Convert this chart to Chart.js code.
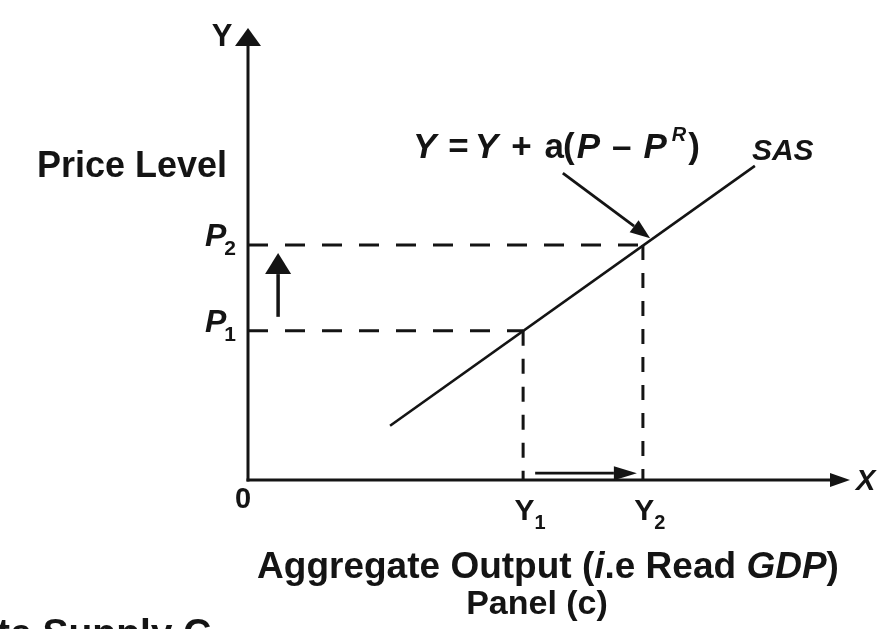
<!DOCTYPE html>
<html>
<head>
<meta charset="utf-8">
<title>Short-run aggregate supply - Panel (c)</title>
<script src="https://cdn.jsdelivr.net/npm/chart.js@4.4.1/dist/chart.umd.min.js"></script>
<style>
  html, body { margin: 0; padding: 0; background: #fff; }
  canvas { display: block; }
</style>
</head>
<body>
<canvas id="sas" width="890" height="629"></canvas>
<script>
// values (output on x, price level on y, both 0..100)
const outputTicks = [0, 45.7, 65.6];
const outputNames = ["0", "Y", "Y"];
const outputSubs = ["", "1", "2"];
const priceTicks = [33, 52];
const priceNames = ["P", "P"];
const priceSubs = ["1", "2"];
const sasX = [23.6, 84.2];
const sasY = [12, 69.5];
// shift arrows: price rise, output rise, pointer to the equation
const arrowFromX = [5, 47.7, 52.3];
const arrowFromY = [36.1, 1.5, 67.9];
const arrowToX = [5, 64.6, 66.8];
const arrowToY = [50.2, 1.5, 53.5];

const FONT = '"Liberation Sans", Arial, Helvetica, sans-serif';
const INK = "#141414";

function font(size, italic) {
  return (italic ? "italic " : "") + "bold " + size + "px " + FONT;
}

// draw a row of text pieces: [text, size, italic, dy, gapAfter]
function drawRuns(ctx, runs, x, y, align) {
  let total = 0;
  runs.forEach(r => {
    ctx.font = font(r[1], r[2]);
    total += ctx.measureText(r[0]).width + (r[4] || 0);
  });
  let cx = align === "right" ? x - total : align === "center" ? x - total / 2 : x;
  ctx.textAlign = "left";
  ctx.textBaseline = "alphabetic";
  runs.forEach(r => {
    ctx.font = font(r[1], r[2]);
    ctx.fillText(r[0], cx, y + (r[3] || 0));
    cx += ctx.measureText(r[0]).width + (r[4] || 0);
  });
}

function arrow(ctx, x1, y1, x2, y2, headLen, headW, lw) {
  const a = Math.atan2(y2 - y1, x2 - x1);
  const bx = x2 - headLen * Math.cos(a), by = y2 - headLen * Math.sin(a);
  ctx.lineWidth = lw;
  ctx.beginPath();
  ctx.moveTo(x1, y1);
  ctx.lineTo(bx, by);
  ctx.stroke();
  ctx.beginPath();
  ctx.moveTo(x2, y2);
  ctx.lineTo(bx + headW / 2 * Math.sin(a), by - headW / 2 * Math.cos(a));
  ctx.lineTo(bx - headW / 2 * Math.sin(a), by + headW / 2 * Math.cos(a));
  ctx.closePath();
  ctx.fill();
}

const diagram = {
  id: "diagram",
  beforeDraw(chart) {
    const ctx = chart.ctx;
    ctx.save();
    ctx.fillStyle = "#fff";
    ctx.fillRect(0, 0, chart.width, chart.height);
    ctx.restore();
  },
  afterDatasetsDraw(chart) {
    const ctx = chart.ctx;
    const xs = chart.scales.x, ys = chart.scales.y;
    const x0 = xs.getPixelForValue(0), y0 = ys.getPixelForValue(0);
    ctx.save();
    ctx.strokeStyle = INK;
    ctx.fillStyle = INK;
    ctx.lineCap = "butt";

    // axes with arrow heads
    arrow(ctx, x0, y0 + 1.5, x0, ys.getPixelForValue(100), 18, 26, 3);
    arrow(ctx, x0 - 1.5, y0, xs.getPixelForValue(100), y0, 20, 14, 3);

    // shift arrows
    const heads = [[21, 26, 3.5], [23, 14, 2.8], [20, 15, 2.8]];
    arrowFromX.forEach((v, i) => {
      arrow(ctx, xs.getPixelForValue(v), ys.getPixelForValue(arrowFromY[i]),
        xs.getPixelForValue(arrowToX[i]), ys.getPixelForValue(arrowToY[i]),
        heads[i][0], heads[i][1], heads[i][2]);
    });

    // axis letters
    drawRuns(ctx, [["Y", 31, false]], x0 - 26, 46, "center");
    drawRuns(ctx, [["X", 29, true]], xs.getPixelForValue(100) + 6, y0 + 10, "left");
    drawRuns(ctx, [["Price Level", 36, false]], x0 - 21, 177, "right");

    // tick labels
    outputTicks.forEach((v, i) => {
      const px = xs.getPixelForValue(v);
      if (!outputSubs[i]) {
        drawRuns(ctx, [[outputNames[i], 29, false]], px - 5, y0 + 28, "center");
      } else {
        drawRuns(ctx, [[outputNames[i], 30, false], [outputSubs[i], 20, false, 9]], px + 7, y0 + 40, "center");
      }
    });
    priceTicks.forEach((v, i) => {
      const py = ys.getPixelForValue(v);
      drawRuns(ctx, [[priceNames[i], 32, true, 0, -2], [priceSubs[i], 21, false, 9]], x0 - 12, py + 1, "right");
    });

    // curve label and equation
    const ex = xs.getPixelForValue(sasX[1]), ey = ys.getPixelForValue(sasY[1]);
    drawRuns(ctx, [["SAS", 30, true]], ex - 3, ey - 6, "left");
    drawRuns(ctx, [
      ["Y", 35, true, 0, 12], ["=", 35, false, 0, 6], ["Y", 35, true, 0, 13],
      ["+", 35, false, 0, 13], ["a", 35, false, 0, -1], ["(", 35, false, 0, 2], ["P", 35, true, 0, 12],
      ["\u2013", 35, false, 0, 12], ["P", 35, true, 0, 5], ["R", 20, true, -17, 2], [")", 35, false]
    ], 413, 158, "left");

    // axis title and caption
    drawRuns(ctx, [["Aggregate Output (", 37, false], ["i", 37, true], [".e Read ", 37, false],
      ["GDP", 37, true], [")", 37, false]], 548, 578, "center");
    drawRuns(ctx, [["Panel (c)", 34, false]], 537, 614, "center");
    drawRuns(ctx, [["te Supply C", 39, false]], -3, 646, "left");
    ctx.restore();
  }
};

const hDash = [20, 17];
const vDash = [15, 13];
const hGuide = { showLine: true, borderColor: INK, borderWidth: 3, borderDash: hDash, pointRadius: 0 };
const vGuide = { showLine: true, borderColor: INK, borderWidth: 3, borderDash: vDash, pointRadius: 0 };

new Chart(document.getElementById("sas"), {
  type: "scatter",
  data: {
    datasets: [
      {
        label: "SAS",
        data: sasX.map((x, i) => ({ x, y: sasY[i] })),
        showLine: true, borderColor: INK, borderWidth: 2.6, pointRadius: 0
      },
      { label: "P1", data: [{ x: 0, y: priceTicks[0] }, { x: outputTicks[1], y: priceTicks[0] }], ...hGuide },
      { label: "P2", data: [{ x: 0, y: priceTicks[1] }, { x: outputTicks[2], y: priceTicks[1] }], ...hGuide },
      { label: "Y1", data: [{ x: outputTicks[1], y: priceTicks[0] }, { x: outputTicks[1], y: 0 }], ...vGuide },
      { label: "Y2", data: [{ x: outputTicks[2], y: priceTicks[1] }, { x: outputTicks[2], y: 0 }], ...vGuide }
    ]
  },
  options: {
    responsive: false,
    animation: false,
    layout: { padding: { left: 248, right: 40, top: 28, bottom: 149 } },
    scales: {
      x: { type: "linear", min: 0, max: 100, display: false },
      y: { type: "linear", min: 0, max: 100, display: false }
    },
    plugins: { legend: { display: false }, tooltip: { enabled: false } }
  },
  plugins: [diagram]
});
</script>
</body>
</html>
